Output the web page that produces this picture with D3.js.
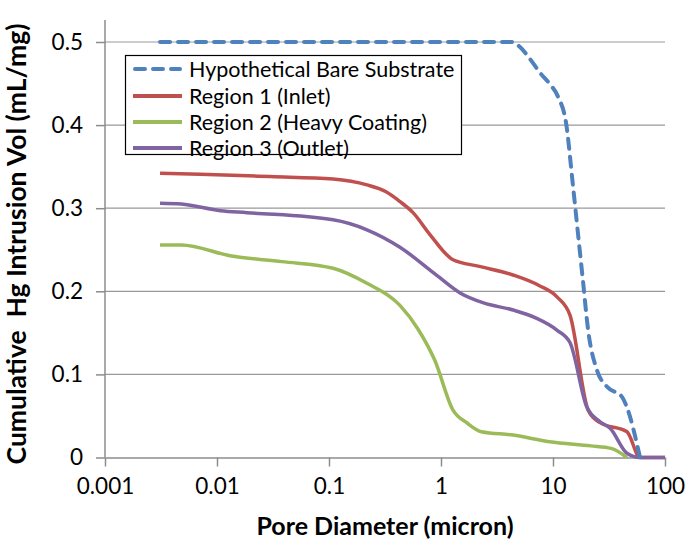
<!DOCTYPE html>
<html><head><meta charset="utf-8">
<script src="https://cdn.jsdelivr.net/npm/d3@7"></script>
<style>
body{margin:0;background:#fff;}
svg{display:block;font-family:Lato, "Open Sans", sans-serif;}
</style></head>
<body><svg id="c" width="685" height="546"></svg>
<script>
const seriesNames = ["Hypothetical Bare Substrate","Region 1 (Inlet)","Region 2 (Heavy Coating)","Region 3 (Outlet)"];
const seriesColors = ["#4F81BD","#C0504D","#9BBB59","#8064A2"];
const bareD   = [0.0031, 0.01, 0.1, 1, 4.3, 5.07, 6.2, 7.66, 9.3, 11.1, 13.1, 15.0, 17.0, 18.5, 20.6, 24.7, 30.4, 41.3, 45.8, 59.8];
const bareV   = [0.5, 0.5, 0.5, 0.5, 0.5, 0.494, 0.48, 0.463, 0.45, 0.434, 0.402, 0.33, 0.26, 0.213, 0.153, 0.105, 0.085, 0.073, 0.060, 0];
const r1D = [0.0031, 0.00705, 0.03, 0.1087, 0.218, 0.32, 0.43, 0.56, 0.8, 1.28, 2.2, 4.4, 7.5, 10.9, 14.2, 20.6, 26.3, 45.8, 59.8, 100];
const r1V = [0.342, 0.341, 0.338, 0.335, 0.328, 0.32, 0.308, 0.295, 0.268, 0.238, 0.230, 0.2196, 0.207, 0.193, 0.171, 0.057, 0.042, 0.031, 0, 0];
const r2D = [0.0031, 0.0048, 0.0135, 0.038, 0.1087, 0.218, 0.43, 0.62, 0.88, 1.28, 1.71, 2.3, 4.4, 9.3, 21.7, 33, 45.8];
const r2V = [0.2557, 0.2557, 0.2425, 0.2357, 0.2277, 0.2096, 0.183, 0.155, 0.117, 0.057, 0.0415, 0.031, 0.027, 0.019, 0.014, 0.011, 0];
const r3D = [0.0031, 0.0048, 0.0108, 0.0185, 0.1087, 0.218, 0.43, 0.9, 1.48, 2.4, 4.4, 7.0, 10.9, 14.2, 20.0, 26.3, 32.5, 45.8, 59.8, 100];
const r3V = [0.306, 0.305, 0.297, 0.2946, 0.286, 0.274, 0.253, 0.22, 0.198, 0.186, 0.1775, 0.168, 0.153, 0.138, 0.061, 0.043, 0.035, 0.005, 0, 0];
const xTicks = [0.001, 0.01, 0.1, 1, 10, 100];
const xTickLabels = ["0.001","0.01","0.1","1","10","100"];
const yTicks = [0, 0.1, 0.2, 0.3, 0.4, 0.5];
const yTickLabels = ["0","0.1","0.2","0.3","0.4","0.5"];

const svg = d3.select("#c");
const x = d3.scaleLog().domain([0.001, 100]).range([105, 665]);
const y = d3.scaleLinear().domain([0, 0.5]).range([457.5, 42]);

// gridlines
svg.append("g").selectAll("line").data(yTicks.filter(v => v > 0)).join("line")
  .attr("x1", 105).attr("x2", 665).attr("y1", d => y(d)).attr("y2", d => y(d))
  .attr("stroke", "#999").attr("stroke-width", 1.2);

// x axis
const xAxis = d3.axisBottom(x).tickValues(xTicks).tickFormat((d,i) => xTickLabels[i]).tickSize(9).tickSizeOuter(0).tickPadding(12);
const gx = svg.append("g").attr("transform", "translate(0,457.5)").call(xAxis);
gx.select(".domain").attr("stroke", "#8c8c8c").attr("stroke-width", 1.5);
gx.selectAll(".tick line").attr("stroke", "#8c8c8c").attr("stroke-width", 1.5);
gx.selectAll(".tick text").attr("font-size", 22.5).attr("fill", "#000").attr("font-family", "Lato, sans-serif");

// y axis
const yAxis = d3.axisLeft(y).tickValues(yTicks).tickFormat((d,i) => yTickLabels[i]).tickSize(9).tickSizeOuter(0).tickPadding(13);
const gy = svg.append("g").attr("transform", "translate(105,0)").call(yAxis);
gy.select(".domain").attr("stroke", "#8c8c8c").attr("stroke-width", 1.5).attr("d", "M0,457.5V20");
gy.selectAll(".tick line").attr("stroke", "#8c8c8c").attr("stroke-width", 1.5);
gy.selectAll(".tick text").attr("font-size", 22.5).attr("fill", "#000").attr("font-family", "Lato, sans-serif");

// lines
const line = d3.line().x(d => x(d[0])).y(d => y(d[1])).curve(d3.curveMonotoneX);
const allSeries = [[bareD, bareV], [r1D, r1V], [r2D, r2V], [r3D, r3V]];
const order = [2, 1, 3, 0];
order.forEach(i => {
  const pts = allSeries[i][0].map((d, k) => [d, allSeries[i][1][k]]);
  const p = svg.append("path").attr("d", line(pts)).attr("fill", "none")
    .attr("stroke", seriesColors[i]).attr("stroke-width", 3.5).attr("stroke-linejoin", "round");
  if (i === 0) p.attr("stroke-dasharray", "10,8").attr("stroke-linecap", "round").attr("stroke-width", 4);
});

// legend
const lg = svg.append("g");
lg.append("rect").attr("x", 125.5).attr("y", 55.5).attr("width", 336).attr("height", 99)
  .attr("fill", "#fff").attr("stroke", "#000").attr("stroke-width", 1.2);
const rowsY = [69, 96, 122, 148];
seriesNames.forEach((n, i) => {
  const l = lg.append("line").attr("x1", 133).attr("x2", 182).attr("y1", rowsY[i]).attr("y2", rowsY[i])
    .attr("stroke", seriesColors[i]).attr("stroke-width", 4);
  if (i === 0) l.attr("stroke-dasharray", "10,8").attr("stroke-linecap", "round").attr("x1", 135).attr("x2", 180);
  lg.append("text").attr("x", 189).attr("y", rowsY[i]).attr("dy", "0.35em")
    .attr("font-size", 21.5).attr("fill", "#000").text(n);
});

// axis titles
svg.append("text").attr("x", 385).attr("y", 526).attr("dy", "0.35em").attr("text-anchor", "middle")
  .attr("font-size", 25).attr("font-weight", "bold").text("Pore Diameter (micron)");
svg.append("text").attr("transform", "translate(17,244) rotate(-90)").attr("dy", "0.35em").attr("text-anchor", "middle")
  .attr("font-size", 26.5).attr("font-weight", "bold").attr("xml:space", "preserve").style("white-space", "pre")
  .text("Cumulative  Hg Intrusion Vol (mL/mg)");
</script></body></html>
